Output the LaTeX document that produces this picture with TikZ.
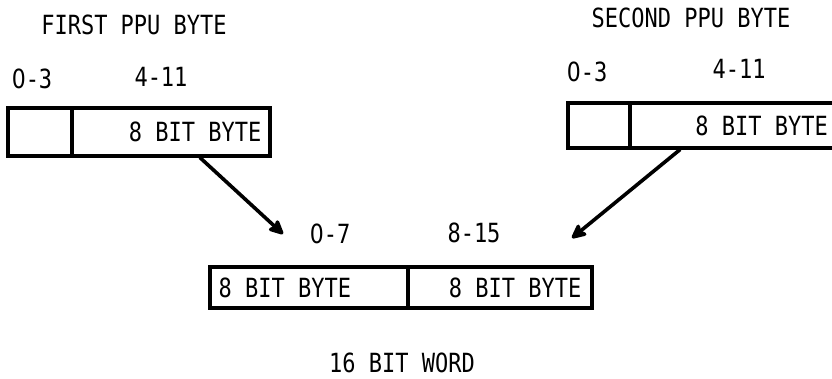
\documentclass[tikz,border=0pt]{standalone}
\usepackage{fontspec}
\setmainfont{DejaVu Sans Mono}
\newfontfamily\plainzero{DejaVu Sans}
\usetikzlibrary{arrows.meta}
% slightly tall lettering
\newcommand\tall[1]{\scalebox{1}[1.2]{#1}}
% an undotted zero
\newcommand\zr{{\plainzero 0}}
\begin{document}
\begin{tikzpicture}[x=1pt,y=-1pt,
  cell/.style={draw,line width=3.2pt,inner sep=0pt,anchor=center},
  txt/.style={inner sep=0pt,font=\fontsize{22}{22}\selectfont},
  link/.style={line width=3.6pt,line cap=round,-{Stealth[length=18pt,width=17pt,inset=4pt,round]}}]
\useasboundingbox (0,0) rectangle (832,379);
\clip (0,0) rectangle (832,379);

% first PPU byte: 4-bit field + 8-bit byte
\node[txt] (t1) at (134,25) {\tall{FIRST PPU BYTE}};
\node[txt] (l03) at (32,79) {\tall{\zr-3}};
\node[txt] (l411) at (161,77) {\tall{4-11}};
\node[cell,minimum width=64pt,minimum height=48pt] (L0) at (40,132) {};
\node[cell,minimum width=198pt,minimum height=48pt] (L1) at (171,132) {};
\node[txt,anchor=east] (L1t) at ([xshift=-10pt]L1.east) {\tall{8 BIT BYTE}};

% second PPU byte
\node[txt] (t2) at (691,18) {\tall{SECOND PPU BYTE}};
\node[txt] (r03) at (587,72) {\tall{\zr-3}};
\node[txt] (r411) at (739,69) {\tall{4-11}};
\node[cell,minimum width=62pt,minimum height=45pt] (R0) at (599,125.5) {};
\node[cell,minimum width=212pt,minimum height=45pt] (R1) at (736,125.5) {};
\node[txt,anchor=east] (R1t) at (828,126) {\tall{8 BIT BYTE}};

% packed 16-bit word
\node[txt] (b07) at (330,234) {\tall{\zr-7}};
\node[txt] (b815) at (474,233) {\tall{8-15}};
\node[cell,minimum width=198pt,minimum height=41pt] (B0) at (309,287.5) {};
\node[cell,minimum width=184pt,minimum height=41pt] (B1) at (500,287.5) {};
\node[txt,anchor=west] (B0t) at ([xshift=10pt]B0.west) {\tall{8 BIT BYTE}};
\node[txt,anchor=east] (B1t) at ([xshift=-12pt]B1.east) {\tall{8 BIT BYTE}};
\node[txt] (w16) at (402,363) {\tall{16 BIT WORD}};

% transfer arrows
\coordinate (s1) at ([xshift=29pt]L1.south);
\coordinate (e1) at (283,234);
\coordinate (s2) at ([xshift=-56pt]R1.south);
\coordinate (e2) at (572,238);
\draw[link] (s1) -- (e1);
\draw[link] (s2) -- (e2);
\end{tikzpicture}
\end{document}
